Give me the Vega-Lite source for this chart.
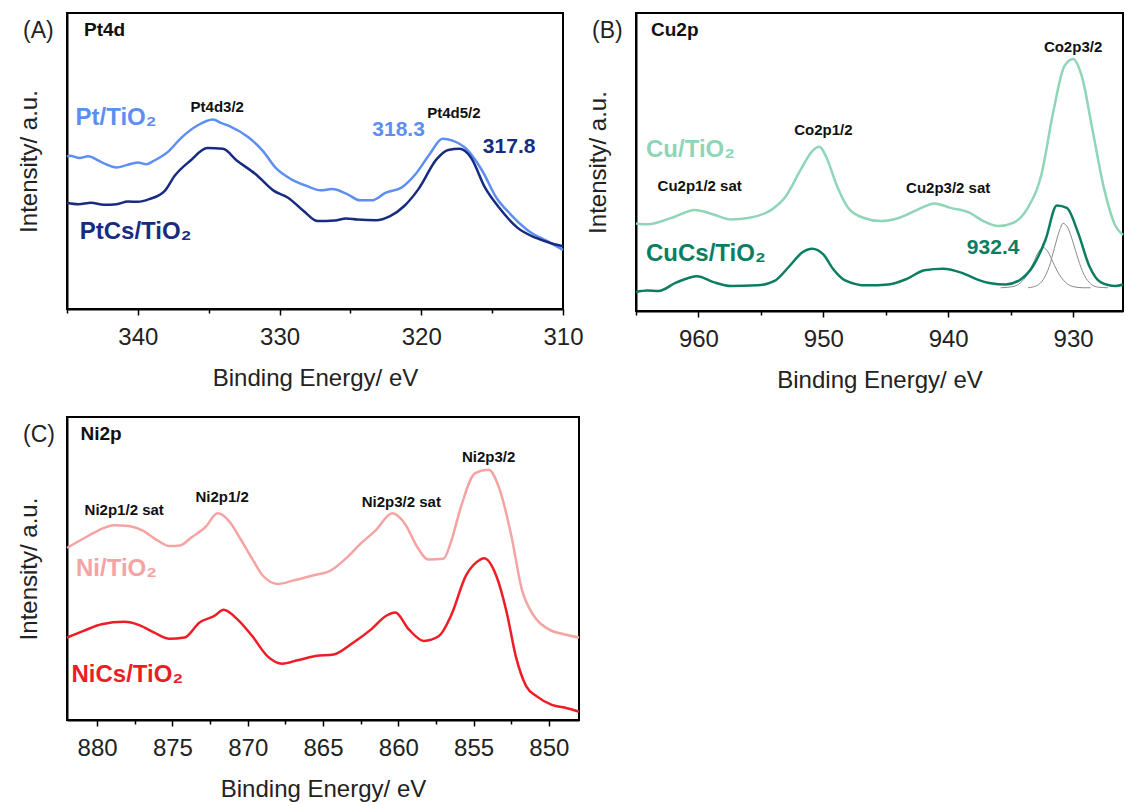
{
  "$schema": "https://vega.github.io/schema/vega-lite/v6.json",
  "background": "white",
  "padding": {"left": 16, "top": 12, "right": 0, "bottom": 0},
  "autosize": {"type": "pad"},
  "config": {
    "font": "Liberation Sans",
    "view": {"stroke": "#000", "strokeWidth": 2},
    "axis": {"grid": false, "domainColor": "#000", "domainWidth": 2},
    "axisX": {"labelFontSize": 24, "labelColor": "#222", "labelPadding": 10, "tickColor": "#000", "tickWidth": 1.5, "titleFontSize": 24, "titleFontWeight": "normal", "titleColor": "#222", "titlePadding": 17, "labelFlush": false, "labelOverlap": false},
    "axisY": {"labels": false, "ticks": false, "titleFontSize": 24, "titleFontWeight": "normal", "titleColor": "#222", "titlePadding": 26},
    "title": {"fontSize": 23, "fontWeight": "normal", "color": "#222", "anchor": "start", "frame": "group", "dx": -44, "offset": -30}
  },
  "resolve": {"scale": {"color": "independent"}},
  "datasets": {
    "pt": [
      {"e": 345, "v": 51.5, "s": "Pt/TiO2"}, {"e": 344.8, "v": 51.8, "s": "Pt/TiO2"}, {"e": 344.1, "v": 51, "s": "Pt/TiO2"}, {"e": 343.5, "v": 51.6, "s": "Pt/TiO2"}, {"e": 342.8, "v": 50.2, "s": "Pt/TiO2"}, {"e": 342.3, "v": 49, "s": "Pt/TiO2"}, {"e": 341.5, "v": 47.8, "s": "Pt/TiO2"}, {"e": 340.8, "v": 48.6, "s": "Pt/TiO2"}, {"e": 340, "v": 49.5, "s": "Pt/TiO2"}, {"e": 339.4, "v": 48.9, "s": "Pt/TiO2"}, {"e": 338.9, "v": 50, "s": "Pt/TiO2"}, {"e": 337.9, "v": 53, "s": "Pt/TiO2"}, {"e": 336.9, "v": 58, "s": "Pt/TiO2"}, {"e": 335.8, "v": 62, "s": "Pt/TiO2"}, {"e": 334.7, "v": 64, "s": "Pt/TiO2"}, {"e": 334.1, "v": 62.8, "s": "Pt/TiO2"}, {"e": 333.5, "v": 61.7, "s": "Pt/TiO2"}, {"e": 332.2, "v": 58, "s": "Pt/TiO2"}, {"e": 331.2, "v": 53.5, "s": "Pt/TiO2"}, {"e": 330.2, "v": 47.3, "s": "Pt/TiO2"}, {"e": 329.2, "v": 43.9, "s": "Pt/TiO2"}, {"e": 328.1, "v": 41.6, "s": "Pt/TiO2"}, {"e": 327.1, "v": 40.1, "s": "Pt/TiO2"}, {"e": 326.3, "v": 40.5, "s": "Pt/TiO2"}, {"e": 325.3, "v": 39, "s": "Pt/TiO2"}, {"e": 324.3, "v": 36.7, "s": "Pt/TiO2"}, {"e": 323.5, "v": 36.7, "s": "Pt/TiO2"}, {"e": 322.5, "v": 39.3, "s": "Pt/TiO2"}, {"e": 321.4, "v": 41, "s": "Pt/TiO2"}, {"e": 320.4, "v": 45.6, "s": "Pt/TiO2"}, {"e": 319.4, "v": 52.4, "s": "Pt/TiO2"}, {"e": 318.5, "v": 57.5, "s": "Pt/TiO2"}, {"e": 317.8, "v": 56.9, "s": "Pt/TiO2"}, {"e": 316.8, "v": 54, "s": "Pt/TiO2"}, {"e": 315.7, "v": 46.7, "s": "Pt/TiO2"}, {"e": 314.7, "v": 37.6, "s": "Pt/TiO2"}, {"e": 313.7, "v": 32, "s": "Pt/TiO2"}, {"e": 312.4, "v": 26.3, "s": "Pt/TiO2"}, {"e": 311.1, "v": 22.9, "s": "Pt/TiO2"}, {"e": 310, "v": 20, "s": "Pt/TiO2"},
      {"e": 345, "v": 35.9, "s": "PtCs/TiO2"}, {"e": 344.2, "v": 35.4, "s": "PtCs/TiO2"}, {"e": 343.3, "v": 35.9, "s": "PtCs/TiO2"}, {"e": 342.4, "v": 35.2, "s": "PtCs/TiO2"}, {"e": 341.5, "v": 35.4, "s": "PtCs/TiO2"}, {"e": 340.7, "v": 36.3, "s": "PtCs/TiO2"}, {"e": 340, "v": 36.2, "s": "PtCs/TiO2"}, {"e": 339.2, "v": 37.1, "s": "PtCs/TiO2"}, {"e": 338.1, "v": 39.9, "s": "PtCs/TiO2"}, {"e": 337.4, "v": 45, "s": "PtCs/TiO2"}, {"e": 336.3, "v": 50.1, "s": "PtCs/TiO2"}, {"e": 335.1, "v": 54.4, "s": "PtCs/TiO2"}, {"e": 334, "v": 54.1, "s": "PtCs/TiO2"}, {"e": 333, "v": 50.1, "s": "PtCs/TiO2"}, {"e": 331.7, "v": 45.6, "s": "PtCs/TiO2"}, {"e": 330.4, "v": 39.9, "s": "PtCs/TiO2"}, {"e": 329.4, "v": 37.6, "s": "PtCs/TiO2"}, {"e": 328.3, "v": 33.1, "s": "PtCs/TiO2"}, {"e": 327.3, "v": 29.7, "s": "PtCs/TiO2"}, {"e": 326.1, "v": 29.9, "s": "PtCs/TiO2"}, {"e": 325.3, "v": 30.6, "s": "PtCs/TiO2"}, {"e": 324.5, "v": 30.2, "s": "PtCs/TiO2"}, {"e": 323.2, "v": 30, "s": "PtCs/TiO2"}, {"e": 322.2, "v": 31.4, "s": "PtCs/TiO2"}, {"e": 321.2, "v": 34.8, "s": "PtCs/TiO2"}, {"e": 320.2, "v": 40.5, "s": "PtCs/TiO2"}, {"e": 318.9, "v": 50.7, "s": "PtCs/TiO2"}, {"e": 318.1, "v": 53.7, "s": "PtCs/TiO2"}, {"e": 317.3, "v": 54.1, "s": "PtCs/TiO2"}, {"e": 316.5, "v": 51.2, "s": "PtCs/TiO2"}, {"e": 315.5, "v": 41, "s": "PtCs/TiO2"}, {"e": 314.5, "v": 34.2, "s": "PtCs/TiO2"}, {"e": 313.2, "v": 27.4, "s": "PtCs/TiO2"}, {"e": 311.9, "v": 24, "s": "PtCs/TiO2"}, {"e": 310.9, "v": 22.3, "s": "PtCs/TiO2"}, {"e": 310, "v": 21.2, "s": "PtCs/TiO2"}
    ],
    "ptText": [
      {"e": 343.8, "v": 94.3, "t": "Pt4d", "k": "panel", "s": ""},
      {"e": 344.4, "v": 64.5, "t": "Pt/TiO₂", "k": "sample", "s": "Pt/TiO2"},
      {"e": 344.1, "v": 26, "t": "PtCs/TiO₂", "k": "sample", "s": "PtCs/TiO2"},
      {"e": 334.4, "v": 68.2, "t": "Pt4d3/2", "k": "peak", "s": ""},
      {"e": 317.7, "v": 66.2, "t": "Pt4d5/2", "k": "peak", "s": ""},
      {"e": 321.6, "v": 60.5, "t": "318.3", "k": "value", "s": "Pt/TiO2"},
      {"e": 313.8, "v": 54.7, "t": "317.8", "k": "value", "s": "PtCs/TiO2"}
    ],
    "cu": [
      {"e": 965, "v": 29.4, "s": "Cu/TiO2"}, {"e": 964.1, "v": 29.1, "s": "Cu/TiO2"}, {"e": 963.2, "v": 29.8, "s": "Cu/TiO2"}, {"e": 961.8, "v": 31.8, "s": "Cu/TiO2"}, {"e": 960.3, "v": 33.9, "s": "Cu/TiO2"}, {"e": 958.8, "v": 32.4, "s": "Cu/TiO2"}, {"e": 957.4, "v": 30.7, "s": "Cu/TiO2"}, {"e": 955.9, "v": 31.3, "s": "Cu/TiO2"}, {"e": 954.1, "v": 34.1, "s": "Cu/TiO2"}, {"e": 953, "v": 38.5, "s": "Cu/TiO2"}, {"e": 951.8, "v": 47.5, "s": "Cu/TiO2"}, {"e": 950.9, "v": 53.6, "s": "Cu/TiO2"}, {"e": 950.3, "v": 55.1, "s": "Cu/TiO2"}, {"e": 949.8, "v": 52, "s": "Cu/TiO2"}, {"e": 948.9, "v": 41.9, "s": "Cu/TiO2"}, {"e": 948, "v": 34.6, "s": "Cu/TiO2"}, {"e": 946.8, "v": 31.3, "s": "Cu/TiO2"}, {"e": 945.4, "v": 30.2, "s": "Cu/TiO2"}, {"e": 943.9, "v": 31.3, "s": "Cu/TiO2"}, {"e": 942.4, "v": 34.1, "s": "Cu/TiO2"}, {"e": 941.1, "v": 36.1, "s": "Cu/TiO2"}, {"e": 939.8, "v": 34.6, "s": "Cu/TiO2"}, {"e": 938.3, "v": 33, "s": "Cu/TiO2"}, {"e": 937.2, "v": 30.2, "s": "Cu/TiO2"}, {"e": 936, "v": 28.5, "s": "Cu/TiO2"}, {"e": 934.8, "v": 29.6, "s": "Cu/TiO2"}, {"e": 933.7, "v": 34.1, "s": "Cu/TiO2"}, {"e": 932.5, "v": 46.4, "s": "Cu/TiO2"}, {"e": 931.6, "v": 66.5, "s": "Cu/TiO2"}, {"e": 930.7, "v": 82.1, "s": "Cu/TiO2"}, {"e": 930, "v": 84.6, "s": "Cu/TiO2"}, {"e": 929.3, "v": 78.8, "s": "Cu/TiO2"}, {"e": 928.4, "v": 59.8, "s": "Cu/TiO2"}, {"e": 927.5, "v": 40.8, "s": "Cu/TiO2"}, {"e": 926.6, "v": 28.5, "s": "Cu/TiO2"}, {"e": 926, "v": 25.5, "s": "Cu/TiO2"},
      {"e": 965, "v": 6.4, "s": "CuCs/TiO2"}, {"e": 964.1, "v": 6.9, "s": "CuCs/TiO2"}, {"e": 963.2, "v": 6.7, "s": "CuCs/TiO2"}, {"e": 961.8, "v": 9.5, "s": "CuCs/TiO2"}, {"e": 960.1, "v": 11.7, "s": "CuCs/TiO2"}, {"e": 958.8, "v": 9.7, "s": "CuCs/TiO2"}, {"e": 957.4, "v": 8.4, "s": "CuCs/TiO2"}, {"e": 955.3, "v": 8.6, "s": "CuCs/TiO2"}, {"e": 953.9, "v": 10.1, "s": "CuCs/TiO2"}, {"e": 952.7, "v": 15.1, "s": "CuCs/TiO2"}, {"e": 951.7, "v": 19.6, "s": "CuCs/TiO2"}, {"e": 950.9, "v": 20.9, "s": "CuCs/TiO2"}, {"e": 950, "v": 19, "s": "CuCs/TiO2"}, {"e": 949.2, "v": 14, "s": "CuCs/TiO2"}, {"e": 948.3, "v": 10.4, "s": "CuCs/TiO2"}, {"e": 946.5, "v": 8.6, "s": "CuCs/TiO2"}, {"e": 944.8, "v": 8.9, "s": "CuCs/TiO2"}, {"e": 943.3, "v": 10.8, "s": "CuCs/TiO2"}, {"e": 941.9, "v": 13.7, "s": "CuCs/TiO2"}, {"e": 940.4, "v": 14.2, "s": "CuCs/TiO2"}, {"e": 938.9, "v": 12.8, "s": "CuCs/TiO2"}, {"e": 937.8, "v": 10.8, "s": "CuCs/TiO2"}, {"e": 936.6, "v": 9.3, "s": "CuCs/TiO2"}, {"e": 935.4, "v": 8.9, "s": "CuCs/TiO2"}, {"e": 934.2, "v": 10.6, "s": "CuCs/TiO2"}, {"e": 933.2, "v": 15.1, "s": "CuCs/TiO2"}, {"e": 932.2, "v": 24, "s": "CuCs/TiO2"}, {"e": 931.3, "v": 35.4, "s": "CuCs/TiO2"}, {"e": 930.5, "v": 34.6, "s": "CuCs/TiO2"}, {"e": 929.6, "v": 26.3, "s": "CuCs/TiO2"}, {"e": 928.7, "v": 15.1, "s": "CuCs/TiO2"}, {"e": 927.8, "v": 9.7, "s": "CuCs/TiO2"}, {"e": 926.6, "v": 8.4, "s": "CuCs/TiO2"}, {"e": 926, "v": 8.9, "s": "CuCs/TiO2"}
    ],
    "cuFit": [
      {"e": 935.8, "v": 7.8, "c": "a"}, {"e": 934.8, "v": 8.2, "c": "a"}, {"e": 934.2, "v": 9.5, "c": "a"}, {"e": 933.7, "v": 12, "c": "a"}, {"e": 933.2, "v": 16, "c": "a"}, {"e": 932.8, "v": 19.6, "c": "a"}, {"e": 932.4, "v": 21.3, "c": "a"}, {"e": 932, "v": 19.8, "c": "a"}, {"e": 931.6, "v": 16.3, "c": "a"}, {"e": 931.1, "v": 12.2, "c": "a"}, {"e": 930.6, "v": 9.6, "c": "a"}, {"e": 930, "v": 8.2, "c": "a"}, {"e": 929.2, "v": 7.8, "c": "a"}, {"e": 928.6, "v": 7.8, "c": "a"},
      {"e": 933.6, "v": 7.8, "c": "b"}, {"e": 932.9, "v": 8.5, "c": "b"}, {"e": 932.4, "v": 10.5, "c": "b"}, {"e": 931.9, "v": 15, "c": "b"}, {"e": 931.5, "v": 21, "c": "b"}, {"e": 931.1, "v": 26.8, "c": "b"}, {"e": 930.8, "v": 29.4, "c": "b"}, {"e": 930.4, "v": 27.8, "c": "b"}, {"e": 930, "v": 23, "c": "b"}, {"e": 929.6, "v": 17.5, "c": "b"}, {"e": 929.1, "v": 12, "c": "b"}, {"e": 928.6, "v": 9.2, "c": "b"}, {"e": 928, "v": 8, "c": "b"}, {"e": 927.2, "v": 7.8, "c": "b"}
    ],
    "cuText": [
      {"e": 963.8, "v": 94.3, "t": "Cu2p", "k": "panel", "s": ""},
      {"e": 964.2, "v": 53.9, "t": "Cu/TiO₂", "k": "sample", "s": "Cu/TiO2"},
      {"e": 964.2, "v": 19.2, "t": "CuCs/TiO₂", "k": "sample", "s": "CuCs/TiO2"},
      {"e": 959.9, "v": 42.1, "t": "Cu2p1/2 sat", "k": "peak", "s": ""},
      {"e": 950, "v": 60.6, "t": "Co2p1/2", "k": "peak", "s": ""},
      {"e": 940, "v": 41.4, "t": "Cu2p3/2 sat", "k": "peak", "s": ""},
      {"e": 930, "v": 88.6, "t": "Co2p3/2", "k": "peak", "s": ""},
      {"e": 936.4, "v": 21.3, "t": "932.4", "k": "value", "s": "CuCs/TiO2"}
    ],
    "ni": [
      {"e": 882, "v": 56.8, "s": "Ni/TiO2"}, {"e": 880.9, "v": 59.9, "s": "Ni/TiO2"}, {"e": 879.9, "v": 62.6, "s": "Ni/TiO2"}, {"e": 878.9, "v": 64.3, "s": "Ni/TiO2"}, {"e": 877.9, "v": 64, "s": "Ni/TiO2"}, {"e": 877, "v": 62.6, "s": "Ni/TiO2"}, {"e": 876, "v": 59.3, "s": "Ni/TiO2"}, {"e": 875.2, "v": 57.4, "s": "Ni/TiO2"}, {"e": 874.5, "v": 57.6, "s": "Ni/TiO2"}, {"e": 873.7, "v": 60.4, "s": "Ni/TiO2"}, {"e": 872.8, "v": 63.7, "s": "Ni/TiO2"}, {"e": 872, "v": 68.2, "s": "Ni/TiO2"}, {"e": 871.2, "v": 65.4, "s": "Ni/TiO2"}, {"e": 870.5, "v": 59.9, "s": "Ni/TiO2"}, {"e": 869.7, "v": 53.2, "s": "Ni/TiO2"}, {"e": 869, "v": 47.7, "s": "Ni/TiO2"}, {"e": 868, "v": 44.9, "s": "Ni/TiO2"}, {"e": 867, "v": 46, "s": "Ni/TiO2"}, {"e": 865.7, "v": 47.7, "s": "Ni/TiO2"}, {"e": 864.5, "v": 49.3, "s": "Ni/TiO2"}, {"e": 863.5, "v": 53.2, "s": "Ni/TiO2"}, {"e": 862.5, "v": 58.2, "s": "Ni/TiO2"}, {"e": 861.5, "v": 62.6, "s": "Ni/TiO2"}, {"e": 860.4, "v": 68.2, "s": "Ni/TiO2"}, {"e": 859.5, "v": 64.3, "s": "Ni/TiO2"}, {"e": 858.8, "v": 57.6, "s": "Ni/TiO2"}, {"e": 858, "v": 53, "s": "Ni/TiO2"}, {"e": 857, "v": 53.2, "s": "Ni/TiO2"}, {"e": 856.5, "v": 58.8, "s": "Ni/TiO2"}, {"e": 855.8, "v": 71, "s": "Ni/TiO2"}, {"e": 854.9, "v": 81.5, "s": "Ni/TiO2"}, {"e": 854, "v": 82.6, "s": "Ni/TiO2"}, {"e": 853.3, "v": 76.5, "s": "Ni/TiO2"}, {"e": 852.5, "v": 61, "s": "Ni/TiO2"}, {"e": 851.8, "v": 43.2, "s": "Ni/TiO2"}, {"e": 851, "v": 34.4, "s": "Ni/TiO2"}, {"e": 850, "v": 29.9, "s": "Ni/TiO2"}, {"e": 849, "v": 28.3, "s": "Ni/TiO2"}, {"e": 848, "v": 27.2, "s": "Ni/TiO2"},
      {"e": 882, "v": 27.2, "s": "NiCs/TiO2"}, {"e": 880.9, "v": 29.4, "s": "NiCs/TiO2"}, {"e": 879.7, "v": 31.6, "s": "NiCs/TiO2"}, {"e": 878.2, "v": 32.4, "s": "NiCs/TiO2"}, {"e": 877.2, "v": 31.3, "s": "NiCs/TiO2"}, {"e": 876.2, "v": 28.8, "s": "NiCs/TiO2"}, {"e": 875.2, "v": 26.8, "s": "NiCs/TiO2"}, {"e": 874.2, "v": 27.2, "s": "NiCs/TiO2"}, {"e": 873.2, "v": 32.2, "s": "NiCs/TiO2"}, {"e": 872.2, "v": 34.4, "s": "NiCs/TiO2"}, {"e": 871.6, "v": 36.4, "s": "NiCs/TiO2"}, {"e": 870.7, "v": 33.3, "s": "NiCs/TiO2"}, {"e": 869.7, "v": 27.7, "s": "NiCs/TiO2"}, {"e": 868.7, "v": 21.1, "s": "NiCs/TiO2"}, {"e": 867.7, "v": 18.6, "s": "NiCs/TiO2"}, {"e": 866.7, "v": 19.7, "s": "NiCs/TiO2"}, {"e": 865.5, "v": 21.1, "s": "NiCs/TiO2"}, {"e": 864.3, "v": 21.6, "s": "NiCs/TiO2"}, {"e": 863, "v": 25.5, "s": "NiCs/TiO2"}, {"e": 861.8, "v": 29.9, "s": "NiCs/TiO2"}, {"e": 860.8, "v": 34.4, "s": "NiCs/TiO2"}, {"e": 860.2, "v": 35.5, "s": "NiCs/TiO2"}, {"e": 859.3, "v": 29.9, "s": "NiCs/TiO2"}, {"e": 858.3, "v": 26.1, "s": "NiCs/TiO2"}, {"e": 857.3, "v": 27.7, "s": "NiCs/TiO2"}, {"e": 856.5, "v": 34.4, "s": "NiCs/TiO2"}, {"e": 855.5, "v": 47.7, "s": "NiCs/TiO2"}, {"e": 854.8, "v": 52.1, "s": "NiCs/TiO2"}, {"e": 854.3, "v": 53.4, "s": "NiCs/TiO2"}, {"e": 853.5, "v": 47.7, "s": "NiCs/TiO2"}, {"e": 852.8, "v": 35.5, "s": "NiCs/TiO2"}, {"e": 852.2, "v": 21.1, "s": "NiCs/TiO2"}, {"e": 851.5, "v": 11.1, "s": "NiCs/TiO2"}, {"e": 850.8, "v": 7.8, "s": "NiCs/TiO2"}, {"e": 849.8, "v": 5, "s": "NiCs/TiO2"}, {"e": 848.8, "v": 3.9, "s": "NiCs/TiO2"}, {"e": 848, "v": 2.8, "s": "NiCs/TiO2"}
    ],
    "niText": [
      {"e": 881.1, "v": 94.5, "t": "Ni2p", "k": "panel", "s": ""},
      {"e": 881.4, "v": 49.9, "t": "Ni/TiO₂", "k": "sample", "s": "Ni/TiO2"},
      {"e": 881.7, "v": 15, "t": "NiCs/TiO₂", "k": "sample", "s": "NiCs/TiO2"},
      {"e": 878.2, "v": 69.3, "t": "Ni2p1/2 sat", "k": "peak", "s": ""},
      {"e": 871.7, "v": 73.7, "t": "Ni2p1/2", "k": "peak", "s": ""},
      {"e": 859.8, "v": 72, "t": "Ni2p3/2 sat", "k": "peak", "s": ""},
      {"e": 854, "v": 86.7, "t": "Ni2p3/2", "k": "peak", "s": ""}
    ]
  },
  "concat": [
    {
      "width": 496, "height": 296,
      "title": {"text": "(A)"},
      "encoding": {
        "x": {"field": "e", "type": "quantitative", "scale": {"domain": [310, 345], "reverse": true, "nice": false, "zero": false},
              "axis": {"title": "Binding Energy/ eV", "values": [345, 340, 335, 330, 325, 320, 315, 310], "labelExpr": "datum.value % 10 === 0 ? datum.label : ''", "tickSize": {"condition": {"test": "datum.value % 10 === 0", "value": 6}, "value": 4}}},
        "y": {"field": "v", "type": "quantitative", "scale": {"domain": [0, 100], "nice": false}, "axis": {"title": "Intensity/ a.u."}}
      },
      "layer": [
        {"data": {"name": "pt"}, "mark": {"type": "line", "strokeWidth": 2.5, "interpolate": "monotone"}, "encoding": {"color": {"field": "s", "type": "nominal", "legend": null, "scale": {"domain": ["Pt/TiO2", "PtCs/TiO2"], "range": ["#5d8ef2", "#172b80"]}}}},
        {"data": {"name": "ptText"}, "transform": [{"filter": "datum.k === 'panel'"}], "mark": {"type": "text", "fontSize": 19, "fontWeight": "bold", "align": "left", "baseline": "middle", "color": "#111"}, "encoding": {"text": {"field": "t"}}},
        {"data": {"name": "ptText"}, "transform": [{"filter": "datum.k === 'peak'"}], "mark": {"type": "text", "fontSize": 15, "fontWeight": "bold", "align": "center", "baseline": "middle", "color": "#111"}, "encoding": {"text": {"field": "t"}}},
        {"data": {"name": "ptText"}, "transform": [{"filter": "datum.k === 'sample'"}], "mark": {"type": "text", "fontSize": 24, "fontWeight": "bold", "align": "left", "baseline": "middle"}, "encoding": {"text": {"field": "t"}, "color": {"field": "s", "type": "nominal", "legend": null}}},
        {"data": {"name": "ptText"}, "transform": [{"filter": "datum.k === 'value'"}], "mark": {"type": "text", "fontSize": 21, "fontWeight": "bold", "align": "center", "baseline": "middle"}, "encoding": {"text": {"field": "t"}, "color": {"field": "s", "type": "nominal", "legend": null}}}
      ]
    },
    {
      "width": 487, "height": 298,
      "title": {"text": "(B)"},
      "encoding": {
        "x": {"field": "e", "type": "quantitative", "scale": {"domain": [926, 965], "reverse": true, "nice": false, "zero": false},
              "axis": {"title": "Binding Energy/ eV", "values": [965, 960, 955, 950, 945, 940, 935, 930], "labelExpr": "datum.value % 10 === 0 ? datum.label : ''", "tickSize": {"condition": {"test": "datum.value % 10 === 0", "value": 6}, "value": 4}}},
        "y": {"field": "v", "type": "quantitative", "scale": {"domain": [0, 100], "nice": false}, "axis": {"title": "Intensity/ a.u."}}
      },
      "layer": [
        {"data": {"name": "cuFit"}, "mark": {"type": "line", "strokeWidth": 1, "color": "#8a8a8a", "interpolate": "monotone"}, "encoding": {"detail": {"field": "c", "type": "nominal"}}},
        {"data": {"name": "cu"}, "mark": {"type": "line", "strokeWidth": 2.5, "interpolate": "monotone"}, "encoding": {"color": {"field": "s", "type": "nominal", "legend": null, "scale": {"domain": ["Cu/TiO2", "CuCs/TiO2"], "range": ["#8fd5b8", "#0b7d61"]}}}},
        {"data": {"name": "cuText"}, "transform": [{"filter": "datum.k === 'panel'"}], "mark": {"type": "text", "fontSize": 19, "fontWeight": "bold", "align": "left", "baseline": "middle", "color": "#111"}, "encoding": {"text": {"field": "t"}}},
        {"data": {"name": "cuText"}, "transform": [{"filter": "datum.k === 'peak'"}], "mark": {"type": "text", "fontSize": 15, "fontWeight": "bold", "align": "center", "baseline": "middle", "color": "#111"}, "encoding": {"text": {"field": "t"}}},
        {"data": {"name": "cuText"}, "transform": [{"filter": "datum.k === 'sample'"}], "mark": {"type": "text", "fontSize": 24, "fontWeight": "bold", "align": "left", "baseline": "middle"}, "encoding": {"text": {"field": "t"}, "color": {"field": "s", "type": "nominal", "legend": null}}},
        {"data": {"name": "cuText"}, "transform": [{"filter": "datum.k === 'value'"}], "mark": {"type": "text", "fontSize": 21, "fontWeight": "bold", "align": "center", "baseline": "middle"}, "encoding": {"text": {"field": "t"}, "color": {"field": "s", "type": "nominal", "legend": null}}}
      ]
    },
    {
      "width": 512, "height": 303,
      "title": {"text": "(C)"},
      "encoding": {
        "x": {"field": "e", "type": "quantitative", "scale": {"domain": [848, 882], "reverse": true, "nice": false, "zero": false},
              "axis": {"title": "Binding Energy/ eV", "values": [880, 877.5, 875, 872.5, 870, 867.5, 865, 862.5, 860, 857.5, 855, 852.5, 850], "labelExpr": "datum.value % 5 === 0 ? datum.label : ''", "tickSize": {"condition": {"test": "datum.value % 5 === 0", "value": 6}, "value": 4}}},
        "y": {"field": "v", "type": "quantitative", "scale": {"domain": [0, 100], "nice": false}, "axis": {"title": "Intensity/ a.u."}}
      },
      "layer": [
        {"data": {"name": "ni"}, "mark": {"type": "line", "strokeWidth": 2.5, "interpolate": "monotone"}, "encoding": {"color": {"field": "s", "type": "nominal", "legend": null, "scale": {"domain": ["Ni/TiO2", "NiCs/TiO2"], "range": ["#f5a3a3", "#ee1c24"]}}}},
        {"data": {"name": "niText"}, "transform": [{"filter": "datum.k === 'panel'"}], "mark": {"type": "text", "fontSize": 19, "fontWeight": "bold", "align": "left", "baseline": "middle", "color": "#111"}, "encoding": {"text": {"field": "t"}}},
        {"data": {"name": "niText"}, "transform": [{"filter": "datum.k === 'peak'"}], "mark": {"type": "text", "fontSize": 15, "fontWeight": "bold", "align": "center", "baseline": "middle", "color": "#111"}, "encoding": {"text": {"field": "t"}}},
        {"data": {"name": "niText"}, "transform": [{"filter": "datum.k === 'sample'"}], "mark": {"type": "text", "fontSize": 24, "fontWeight": "bold", "align": "left", "baseline": "middle"}, "encoding": {"text": {"field": "t"}, "color": {"field": "s", "type": "nominal", "legend": null}}}
      ]
    }
  ],
  "columns": 2,
  "spacing": {"row": 106, "column": 57},
  "bounds": "flush",
  "align": "none"
}
